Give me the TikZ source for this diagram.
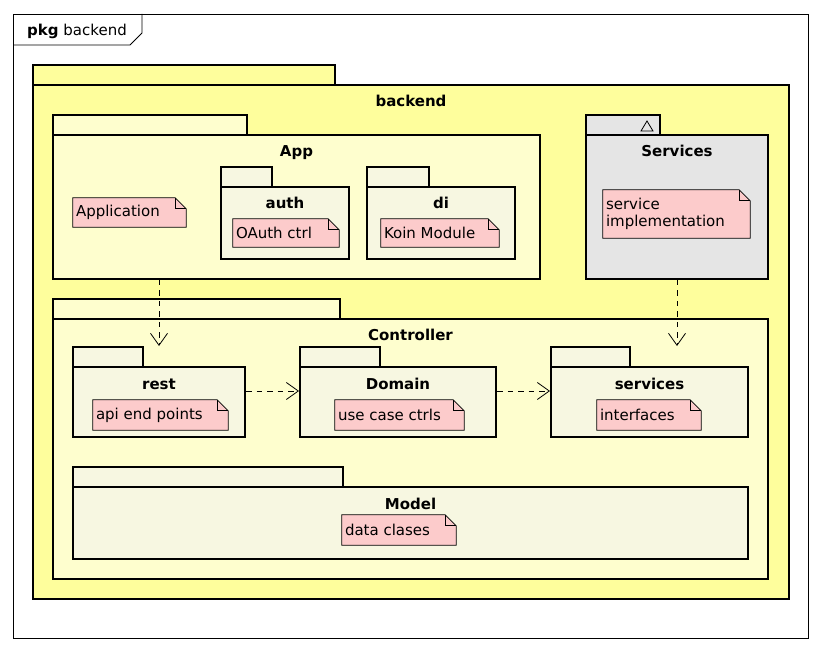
\documentclass[tikz,border=0pt]{standalone}
\usepackage{fontspec}
\setmainfont{DejaVu Sans}
\usetikzlibrary{arrows.meta,fit,calc}
\definecolor{bkfill}{HTML}{FEFE9C}
\definecolor{midfill}{HTML}{FEFECE}
\definecolor{innerfill}{HTML}{F7F7E1}
\definecolor{greyfill}{HTML}{E5E5E5}
\definecolor{notefill}{HTML}{FCCBCB}
\tikzset{
  pkgline/.style={line width=2pt, draw=black, line join=miter},
  pkgtitle/.style={font=\bfseries\fontsize{15}{18}\selectfont, inner sep=0pt, anchor=base},
  notetext/.style={font=\fontsize{15}{18}\selectfont, inner sep=0pt, align=left},
  noteline/.style={line width=0.8pt, draw=black},
  dep/.style={line width=0.8pt, dash pattern=on 5.5pt off 5pt, -{Straight Barb[length=12pt,width=17pt,line width=0.8pt]}},
}
\newcommand\pkgbox[7]{%
  \draw[pkgline, fill=#6] (#2,#3) rectangle (#4,#3+20);
  \node[pkgline, fill=#6, fit={(#2,#3+20)(#5,#7)}, inner sep=0pt] (#1) {};
}
\newcommand\pkgtitle[2]{%
  \node[pkgtitle] (#1-title) at ($(#1.north)+(0,23)$) {#2};
}
\newcommand\notebox[6]{%
  \node[fit={(#2,#3)(#4,#5)}, inner sep=0pt] (#1) {};
  \draw[noteline, fill=notefill] (#1.south west) -- (#1.north west) -- ($(#1.north east)+(-11,0)$) -- ($(#1.north east)+(0,11)$) -- (#1.south east) -- cycle;
  \draw[noteline] ($(#1.north east)+(-11,0)$) -- ($(#1.north east)+(-11,11)$) -- ($(#1.north east)+(0,11)$);
  \node[notetext, anchor=west] (#1-text) at ($(#1.west)+(3,0)$) {#6};
}
\begin{document}
\begin{tikzpicture}[x=1pt,y=-1pt]
\useasboundingbox[fill=white] (0,0) rectangle (822,652);
% frame
\node[draw, line width=0.8pt, fit={(13,14)(808,638)}, inner sep=0pt] (frame) {};
\draw[line width=0.8pt] (13,45) -- (130,45) -- (142,33) -- (142,14);
\node[anchor=base west, inner sep=0pt, font=\fontsize{15}{18}\selectfont] (frametitle) at (27,36) {\textbf{pkg} backend};
% packages
\pkgbox{backend}{33}{65}{335}{789}{bkfill}{599}
\pkgtitle{backend}{backend}
\pkgbox{app}{53}{115}{247}{540}{midfill}{279}
\pkgtitle{app}{App}
\pkgbox{auth}{221}{167}{272}{349}{innerfill}{259}
\pkgtitle{auth}{auth}
\pkgbox{di}{367}{167}{429}{515}{innerfill}{259}
\pkgtitle{di}{di}
\pkgbox{srv}{586}{115}{660}{768}{greyfill}{279}
\pkgtitle{srv}{Services}
\draw[line width=0.8pt] (641,131) -- (653,131) -- (647,121) -- cycle;
\pkgbox{ctrl}{53}{299}{340}{768}{midfill}{579}
\pkgtitle{ctrl}{Controller}
\pkgbox{rest}{73}{347}{143}{245}{innerfill}{437}
\pkgtitle{rest}{rest}
\pkgbox{domain}{300}{347}{380}{496}{innerfill}{437}
\pkgtitle{domain}{Domain}
\pkgbox{ifc}{551}{347}{630}{748}{innerfill}{437}
\pkgtitle{ifc}{services}
\pkgbox{model}{73}{467}{343}{748}{innerfill}{559}
\pkgtitle{model}{Model}
% notes
\notebox{napp}{73}{198}{186}{227}{Application}
\notebox{nauth}{233}{219}{339}{247}{OAuth ctrl}
\notebox{ndi}{381}{219}{499}{247}{Koin Module}
\notebox{nsrv}{603}{190}{750}{238}{service\\[-1pt]implementation}
\notebox{nrest}{93}{400}{228}{430}{api end points}
\notebox{ndom}{335}{400}{464}{430}{use case ctrls}
\notebox{nifc}{597}{400}{701}{430}{interfaces}
\notebox{nmodel}{342}{515}{456}{545}{data clases}
% dependencies
\draw[dep] ($(app.south west)+(107,0)$) -- ($(rest.north west)+(87,-20)$);
\draw[dep] ($(srv.south west)+(92,0)$) -- ($(ifc.north west)+(127,-20)$);
\draw[dep] ($(rest.north east)+(0,25)$) -- ($(domain.north west)+(0,25)$);
\draw[dep] ($(domain.north east)+(0,25)$) -- ($(ifc.north west)+(0,25)$);
\end{tikzpicture}
\end{document}
